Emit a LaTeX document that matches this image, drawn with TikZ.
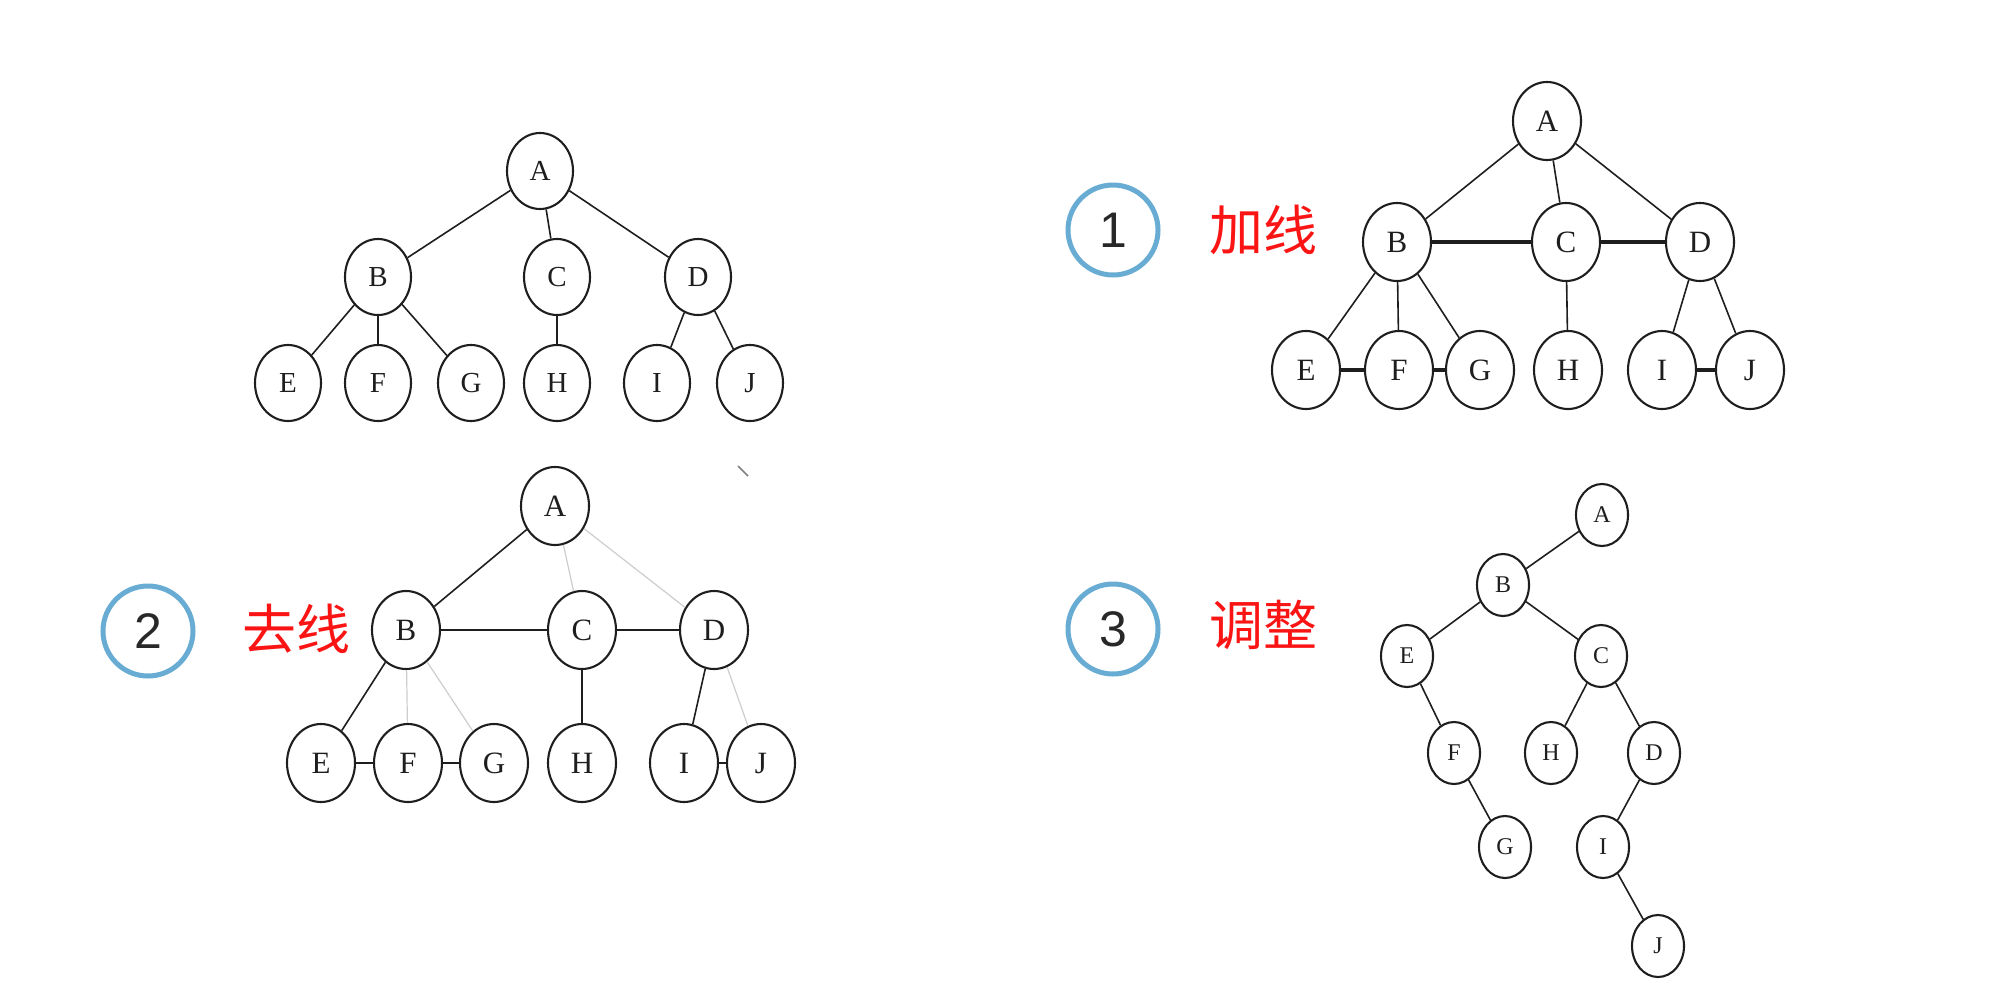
\documentclass[tikz,border=0pt]{standalone}
\usepackage{fontspec}
\setmainfont{Liberation Serif}
\newfontfamily\cjkfont{Noto Sans CJK SC}
\newfontfamily\numfont{Liberation Sans}
\usetikzlibrary{shapes.geometric}
\definecolor{ringblue}{RGB}{104,172,212}
\definecolor{numgray}{RGB}{40,40,40}
\definecolor{labelred}{RGB}{250,20,20}
\definecolor{fadegray}{RGB}{205,205,205}
\definecolor{inkgray}{RGB}{30,30,30}
\tikzset{
  nd/.style={ellipse,draw=inkgray,line width=1.05pt,minimum width=33pt,minimum height=38pt,inner sep=0pt,text=inkgray,font=\fontsize{14.5}{14.5}\selectfont},
  ndb/.style={nd,minimum width=34pt,minimum height=39pt,font=\fontsize{15.5}{15.5}\selectfont},
  nds/.style={nd,minimum width=26pt,minimum height=31pt,font=\fontsize{12}{12}\selectfont},
  edge/.style={line width=0.8pt,inkgray},
  thick edge/.style={line width=2.4pt,inkgray},
  faded/.style={line width=0.6pt,fadegray},
  ring/.style={circle,draw=ringblue,line width=2.5pt,minimum size=45pt,inner sep=0pt,text=numgray,font=\numfont\fontsize{25}{25}\selectfont},
  tag/.style={text=labelred,font=\cjkfont\fontsize{27}{27}\selectfont,inner sep=0pt}
}
\begin{document}
\begin{tikzpicture}[x=0.5pt,y=-0.5pt]
\useasboundingbox (0,0) rectangle (2000,985);
% ---------- tree 1 (top left) ----------
\node[nd] (a1) at (540,171) {A};
\node[nd] (b1) at (378,277) {B};
\node[nd] (c1) at (557,277) {C};
\node[nd] (d1) at (698,277) {D};
\node[nd] (e1) at (288,383) {E};
\node[nd] (f1) at (378,383) {F};
\node[nd] (g1) at (471,383) {G};
\node[nd] (h1) at (557,383) {H};
\node[nd] (i1) at (657,383) {I};
\node[nd] (j1) at (750,383) {J};
\draw[edge] (a1)--(b1) (a1)--(c1) (a1)--(d1) (b1)--(e1) (b1)--(f1) (b1)--(g1) (c1)--(h1) (d1)--(i1) (d1)--(j1);
% ---------- step 1 ----------
\node[ring] (r1) at (1113,230) {1};
\node[tag] (t1) at (1263,230) {加线};
\node[ndb] (a2) at (1547,121) {A};
\node[ndb] (b2) at (1397,242) {B};
\node[ndb] (c2) at (1566,242) {C};
\node[ndb] (d2) at (1700,242) {D};
\node[ndb] (e2) at (1306,370) {E};
\node[ndb] (f2) at (1399,370) {F};
\node[ndb] (g2) at (1480,370) {G};
\node[ndb] (h2) at (1568,370) {H};
\node[ndb] (i2) at (1662,370) {I};
\node[ndb] (j2) at (1750,370) {J};
\draw[edge] (a2)--(b2) (a2)--(c2) (a2)--(d2) (b2)--(e2) (b2)--(f2) (b2)--(g2) (c2)--(h2) (d2)--(i2) (d2)--(j2);
\draw[thick edge] (b2)--(c2) (c2)--(d2) (e2)--(f2) (f2)--(g2) (i2)--(j2);
% ---------- step 2 ----------
\node[ring] (r2) at (148,631) {2};
\node[tag] (t2) at (296,629) {去线};
\node[ndb] (a3) at (555,506) {A};
\node[ndb] (b3) at (406,630) {B};
\node[ndb] (c3) at (582,630) {C};
\node[ndb] (d3) at (714,630) {D};
\node[ndb] (e3) at (321,763) {E};
\node[ndb] (f3) at (408,763) {F};
\node[ndb] (g3) at (494,763) {G};
\node[ndb] (h3) at (582,763) {H};
\node[ndb] (i3) at (684,763) {I};
\node[ndb] (j3) at (761,763) {J};
\draw[faded] (a3)--(c3) (a3)--(d3) (b3)--(f3) (b3)--(g3) (d3)--(j3);
\draw[edge] (a3)--(b3) (b3)--(e3) (c3)--(h3) (d3)--(i3);
\draw[line width=1.3pt,inkgray] (b3)--(c3) (c3)--(d3) (e3)--(f3) (f3)--(g3) (i3)--(j3);
\coordinate (s1) at (738,466);
\coordinate (s2) at (748,476);
\draw[line width=0.8pt,gray] (s1)--(s2);
% ---------- step 3 ----------
\node[ring] (r3) at (1113,629) {3};
\node[tag] (t3) at (1263,625) {调整};
\node[nds] (a4) at (1602,515) {A};
\node[nds] (b4) at (1503,585) {B};
\node[nds] (e4) at (1407,656) {E};
\node[nds] (c4) at (1601,656) {C};
\node[nds] (f4) at (1454,753) {F};
\node[nds] (h4) at (1551,753) {H};
\node[nds] (d4) at (1654,753) {D};
\node[nds] (g4) at (1505,847) {G};
\node[nds] (i4) at (1603,847) {I};
\node[nds] (j4) at (1658,946) {J};
\draw[edge] (a4)--(b4) (b4)--(e4) (b4)--(c4) (e4)--(f4) (f4)--(g4) (c4)--(h4) (c4)--(d4) (d4)--(i4) (i4)--(j4);
\end{tikzpicture}
\end{document}
